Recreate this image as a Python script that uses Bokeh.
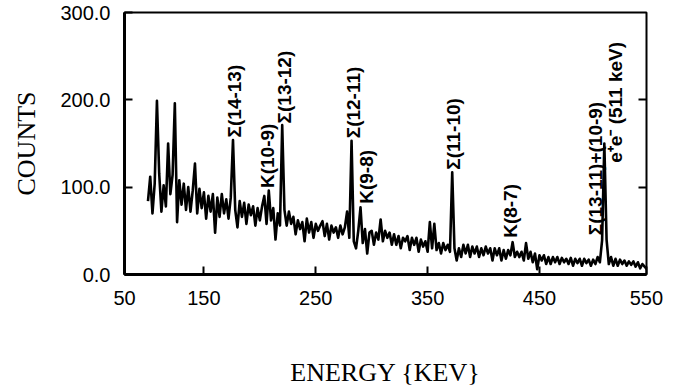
import math
import numpy as np
from bokeh.plotting import figure
from bokeh.models import FixedTicker, LinearAxis, Range1d, ColumnDataSource
from bokeh.core.properties import value
from bokeh.embed import file_html
from bokeh.resources import INLINE

# channel energies (keV), 2 keV grid
energy = np.arange(100, 547, 2)
counts = [
    84, 112, 70, 104, 199, 116, 72, 102, 78, 150,
    92, 114, 196, 60, 108, 80, 104, 74, 100, 72,
    96, 127, 70, 98, 76, 94, 64, 90, 72, 92,
    48, 88, 66, 92, 70, 86, 64, 88, 154, 74,
    54, 84, 66, 82, 58, 80, 68, 78, 56, 76,
    62, 78, 90, 58, 96, 62, 76, 40, 70, 56,
    171, 74, 56, 72, 58, 66, 46, 62, 52, 60,
    38, 64, 48, 60, 42, 58, 50, 56, 61, 44,
    58, 40, 56, 48, 54, 42, 56, 46, 54, 72,
    42, 153, 38, 30, 50, 77, 36, 52, 24, 48,
    50, 34, 48, 40, 63, 38, 50, 42, 48, 34,
    46, 34, 44, 30, 42, 38, 44, 28, 42, 34,
    42, 26, 40, 32, 38, 26, 60, 30, 58, 28,
    36, 24, 36, 28, 34, 26, 117, 30, 16, 30,
    20, 34, 24, 34, 20, 32, 24, 32, 20, 30,
    22, 32, 24, 30, 16, 30, 22, 30, 16, 28,
    18, 28, 22, 37, 20, 26, 20, 26, 16, 36,
    18, 26, 14, 24, 6, 22, 16, 22, 12, 20,
    12, 20, 14, 20, 12, 19, 14, 18, 12, 19,
    10, 18, 13, 18, 10, 18, 13, 17, 10, 17,
    12, 20, 14, 39, 150, 40, 12, 20, 10, 18,
    10, 17, 12, 16, 10, 15, 11, 15, 9, 14, 7, 12, 9, 6,
]

x_tick_pos = [79.1, 150, 250, 350, 450, 545.6]
x_tick_labels = ["50", "150", "250", "350", "450", "550"]
y_tick_pos = [0, 100, 200, 300]
y_tick_labels = ["0.0", "100.0", "200.0", "300.0"]

peak_labels = ["Σ(14-13)", "K(10-9)", "Σ(13-12)", "Σ(12-11)", "K(9-8)",
               "Σ(11-10)", "K(8-7)", "Σ(13-11)+(10-9)", "e⁺e⁻ (511 keV)"]
peak_label_x = [177, 207, 222, 284, 295, 373, 424, 500, 518]
peak_label_y = [157, 99, 173, 156, 81, 120, 42, 45, 128]

p = figure(x_range=Range1d(79.0, 545.7), y_range=Range1d(0, 300),
           frame_width=522, frame_height=262,
           min_border_left=124, min_border_right=22, min_border_top=12, min_border_bottom=109,
           output_backend="svg", toolbar_location=None)
p.background_fill_color = "white"
p.border_fill_color = "white"
p.outline_line_color = "black"
p.outline_line_width = 2
p.grid.visible = False

p.line(energy, counts, line_color="black", line_width=2.6, line_join="round")

src = ColumnDataSource(dict(x=peak_label_x, y=peak_label_y, t=peak_labels))
p.text(x="x", y="y", text="t", source=src, angle=math.pi / 2,
       text_align="left", text_baseline="middle",
       text_font=value("Liberation Sans"), text_font_style="bold",
       text_font_size="19px", text_color="black")

xa = p.xaxis[0]
xa.ticker = FixedTicker(ticks=x_tick_pos)
xa.major_label_overrides = {k: v for k, v in zip(x_tick_pos, x_tick_labels)}
xa.axis_label = "ENERGY {KEV}"
ya = p.yaxis[0]
ya.ticker = FixedTicker(ticks=y_tick_pos)
ya.major_label_overrides = {k: v for k, v in zip(y_tick_pos, y_tick_labels)}
ya.axis_label = "COUNTS"

for ax in (xa, ya):
    ax.axis_line_width = 3
    ax.axis_line_color = "black"
    ax.major_tick_in = 8
    ax.major_tick_out = 0
    ax.major_tick_line_width = 2
    ax.minor_tick_line_color = None
    ax.major_label_text_font = "Liberation Sans"
    ax.major_label_text_font_size = "20px"
    ax.major_label_text_color = "black"
    ax.axis_label_text_font = "Liberation Serif"
    ax.axis_label_text_font_style = "normal"
    ax.axis_label_text_font_size = "26px"
    ax.axis_label_text_color = "black"

xa.major_label_standoff = 16
xa.axis_label_standoff = 50
ya.major_label_standoff = 14
ya.axis_label_standoff = 16

ra = LinearAxis(ticker=FixedTicker(ticks=[100, 200]),
                major_label_overrides={100: "", 200: ""})
ra.axis_line_color = None
ra.major_tick_in = 8
ra.major_tick_out = 0
ra.major_tick_line_width = 2
ra.minor_tick_line_color = None
ra.major_label_text_font_size = "1px"
p.add_layout(ra, "right")

open("out.html", "w").write(file_html(p, INLINE))
